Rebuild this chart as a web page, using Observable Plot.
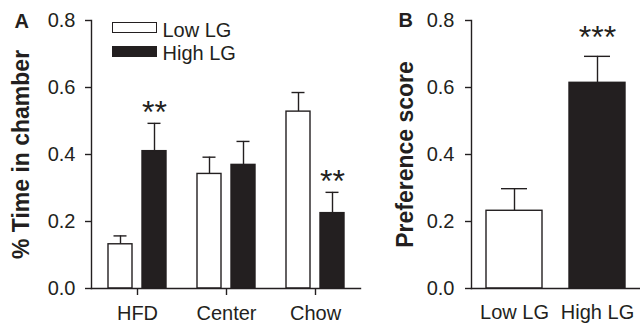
<!DOCTYPE html>
<html>
<head>
<meta charset="utf-8">
<script src="https://cdn.jsdelivr.net/npm/d3@7"></script>
<script src="https://cdn.jsdelivr.net/npm/@observablehq/plot@0.6"></script>
<style>
  html, body { margin: 0; padding: 0; background: #fff; }
  #wrap { position: relative; width: 640px; height: 325px; overflow: hidden; }
  #wrap > .panel { position: absolute; top: 0; }
  .swatch { position: absolute; width: 45px; height: 11px; box-sizing: border-box; border: 1.3px solid #231f20; }
</style>
</head>
<body>
<div id="wrap"></div>
<script>
// ---- data ----
const cats = ["HFD", "Center", "Chow"];
const lowMean = [0.132, 0.342, 0.528];
const lowSem = [0.025, 0.050, 0.057];
const highMean = [0.410, 0.369, 0.225];
const highSem = [0.083, 0.070, 0.062];
const sigA = ["**", "", "**"];

const groupsB = ["Low LG", "High LG"];
const prefMean = [0.232, 0.614];
const prefSem = [0.066, 0.079];
const sigB = ["", "***"];

const yTicks = [0, 0.2, 0.4, 0.6, 0.8];
const legendLabels = ["Low LG", "High LG"];

// ---- styling ----
const ink = "#231f20";
const font = "'Liberation Sans', Arial, Helvetica, sans-serif";
const sw = 1.4;
const fs = 20;

const rowsA = cats.map((c, i) => ({
  cat: c,
  low: lowMean[i], lowTop: lowMean[i] + lowSem[i],
  high: highMean[i], highTop: highMean[i] + highSem[i],
  sig: sigA[i]
}));
const rowsB = groupsB.map((g, i) => ({
  grp: g, m: prefMean[i], top: prefMean[i] + prefSem[i], sig: sigB[i], fill: i === 0 ? "white" : ink
}));

const common = {
  height: 325, marginTop: 20, marginBottom: 37,
  style: {fontFamily: font, fontSize: fs + "px", color: ink, background: "transparent", overflow: "visible"},
  y: {domain: [0, 0.8], label: null}
};

const off = 17;
const panelA = Plot.plot({
  ...common,
  width: 360, marginLeft: 91, marginRight: 0,
  x: {domain: cats, paddingInner: 0.732, paddingOuter: 0.366, label: null},
  marks: [
    Plot.axisY({ticks: yTicks, tickFormat: d3.format(".1f"), tickSize: 6, tickPadding: 10, strokeWidth: sw, label: null, fontSize: fs}),
    Plot.axisX({tickSize: 7, tickPadding: 10, strokeWidth: sw, label: null, fontSize: fs}),
    Plot.ruleX(rowsA, {x: "cat", y1: "low", y2: "lowTop", dx: -off, stroke: ink, strokeWidth: sw}),
    Plot.tickY(rowsA, {x: "cat", y: "lowTop", dx: -off, insetLeft: 5.5, insetRight: 5.5, stroke: ink, strokeWidth: sw}),
    Plot.ruleX(rowsA, {x: "cat", y1: "high", y2: "highTop", dx: off, stroke: ink, strokeWidth: sw}),
    Plot.tickY(rowsA, {x: "cat", y: "highTop", dx: off, insetLeft: 5.5, insetRight: 5.5, stroke: ink, strokeWidth: sw}),
    Plot.barY(rowsA, {x: "cat", y: "low", dx: -off, fill: "white", stroke: ink, strokeWidth: sw}),
    Plot.barY(rowsA, {x: "cat", y: "high", dx: off, fill: ink, stroke: ink, strokeWidth: sw}),
    Plot.text(rowsA, {x: "cat", y: "highTop", text: "sig", dx: off, dy: 0, lineAnchor: "bottom", fontSize: 32, fill: ink}),
    Plot.frame({anchor: "left", stroke: ink, strokeWidth: sw}),
    Plot.frame({anchor: "bottom", stroke: ink, strokeWidth: sw}),
    Plot.text(["% Time in chamber"], {frameAnchor: "left", rotate: -90, textAnchor: "middle", lineAnchor: "middle", dx: -70, fontWeight: "bold", fontSize: 23, fill: ink}),
    Plot.text(["A"], {frameAnchor: "top-left", dx: -77, dy: 7, textAnchor: "start", lineAnchor: "bottom", fontWeight: "bold", fontSize: 20, fill: ink}),
    Plot.text([legendLabels[0]], {frameAnchor: "top-left", dx: 71, dy: 16, textAnchor: "start", lineAnchor: "bottom", fontSize: fs, fill: ink}),
    Plot.text([legendLabels[1]], {frameAnchor: "top-left", dx: 71, dy: 39, textAnchor: "start", lineAnchor: "bottom", fontSize: fs, fill: ink})
  ]
});

const panelB = Plot.plot({
  ...common,
  width: 280, marginLeft: 111, marginRight: 0,
  x: {domain: groupsB, paddingInner: 0.324, paddingOuter: 0.178, label: null},
  marks: [
    Plot.axisY({ticks: yTicks, tickFormat: d3.format(".1f"), tickSize: 6, tickPadding: 11, strokeWidth: sw, label: null, fontSize: fs}),
    Plot.axisX({tickSize: 0, tickPadding: 16, label: null, fontSize: fs}),
    Plot.ruleX(rowsB, {x: "grp", y1: "m", y2: "top", stroke: ink, strokeWidth: sw}),
    Plot.tickY(rowsB, {x: "grp", y: "top", insetLeft: 15, insetRight: 15, stroke: ink, strokeWidth: sw}),
    Plot.barY(rowsB, {x: "grp", y: "m", fill: "fill", stroke: ink, strokeWidth: sw}),
    Plot.text(rowsB, {x: "grp", y: "top", text: "sig", dy: -8, lineAnchor: "bottom", fontSize: 32, fill: ink}),
    Plot.frame({anchor: "left", stroke: ink, strokeWidth: sw}),
    Plot.frame({anchor: "bottom", stroke: ink, strokeWidth: sw}),
    Plot.text(["Preference score"], {frameAnchor: "left", rotate: -90, textAnchor: "middle", lineAnchor: "middle", dx: -66, fontWeight: "bold", fontSize: 23, fill: ink}),
    Plot.text(["B"], {frameAnchor: "top-left", dx: -73, dy: 6, textAnchor: "start", lineAnchor: "bottom", fontWeight: "bold", fontSize: 20, fill: ink})
  ]
});

const wrap = document.getElementById("wrap");
panelA.classList.add("panel"); panelA.style.left = "0px";
panelB.classList.add("panel"); panelB.style.left = "360px";
wrap.appendChild(panelA);
wrap.appendChild(panelB);

// legend swatches
const s1 = document.createElement("div");
s1.className = "swatch"; s1.style.left = "112px"; s1.style.top = "22px"; s1.style.background = "white";
const s2 = document.createElement("div");
s2.className = "swatch"; s2.style.left = "112px"; s2.style.top = "46px"; s2.style.background = ink;
wrap.appendChild(s1); wrap.appendChild(s2);
</script>
</body>
</html>
